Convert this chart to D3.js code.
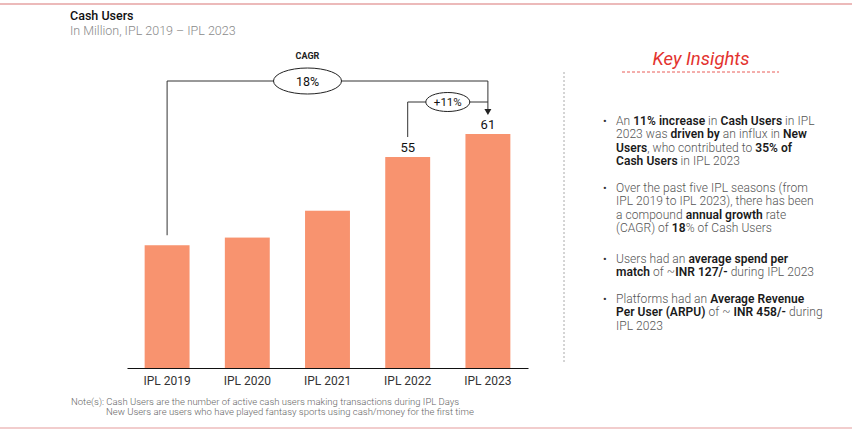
<!DOCTYPE html>
<html><head><meta charset="utf-8">
<script src="https://cdn.jsdelivr.net/npm/d3@7"></script>
<style>
html,body{margin:0;padding:0;background:#fff;}
svg{display:block;font-family:Roboto, "Noto Sans", sans-serif;}
</style></head>
<body><svg id="c" width="854" height="430"></svg>
<script>
const categories = ["IPL 2019","IPL 2020","IPL 2021","IPL 2022","IPL 2023"];
const values = [32, 34, 41, 55, 61];
const labelled = ["IPL 2022","IPL 2023"];
const cagrLabel = "18%";
const yoyLabel = "+11%";
const insights = [
  [[["An ",0],["11% increase",1],[" in ",0],["Cash Users",1],[" in IPL",0]],
   [["2023 was ",0],["driven by",1],[" an influx in ",0],["New",1]],
   [["Users",1],[", who contributed to ",0],["35% of",1]],
   [["Cash Users",1],[" in IPL 2023",0]]],
  [[["Over the past five IPL seasons (from",0]],
   [["IPL 2019 to IPL 2023), there has been",0]],
   [["a compound ",0],["annual growth",1],[" rate",0]],
   [["(CAGR) of ",0],["18",1],["% of Cash Users",0]]],
  [[["Users had an ",0],["average spend per",1]],
   [["match",1],[" of ~",0],["INR 127/-",1],[" during IPL 2023",0]]],
  [[["Platforms had an ",0],["Average Revenue",1]],
   [["Per User (ARPU)",1],[" of ~ ",0],["INR 458/-",1],[" during",0]],
   [["IPL 2023",0]]]
];
const notes = ["Note(s): Cash Users are the number of active cash users making transactions during IPL Days",
               "New Users are users who have played fantasy sports using cash/money for the first time"];

const svg = d3.select("#c");
// borders
svg.append("line").attr("x1",0).attr("x2",852).attr("y1",4).attr("y2",4).attr("stroke","#e6a3a3").attr("stroke-width",1.5);
svg.append("line").attr("x1",0).attr("x2",852).attr("y1",428).attr("y2",428).attr("stroke","#eebcbc").attr("stroke-width",1.5);

// titles
svg.append("text").attr("x",70).attr("y",20).attr("font-size",12.5).attr("font-weight",500).attr("fill","#111").text("Cash Users");
svg.append("text").attr("x",70).attr("y",35).attr("font-size",12.5).attr("font-weight",300).attr("fill","#8a8a8a").text("In Million, IPL 2019 \u2013 IPL 2023");

const x = d3.scaleBand().domain(categories).range([127,528]).paddingInner(0.44).paddingOuter(0.22);
const y = d3.scaleLinear().domain([0,61]).range([368,134]);

svg.append("g").selectAll("rect").data(categories).join("rect")
  .attr("x",d=>x(d)).attr("width",x.bandwidth())
  .attr("y",(d,i)=>y(values[i])).attr("height",(d,i)=>y(0)-y(values[i]))
  .attr("fill","#f8936f");

const ax = svg.append("g").attr("transform","translate(0,368)")
  .call(d3.axisBottom(x).tickSize(0).tickPadding(8));
ax.select(".domain").attr("stroke","#111").attr("stroke-width",1.2);
ax.selectAll("text").attr("font-size",12).attr("fill","#333").attr("font-family","Roboto");

// value labels
svg.append("g").selectAll("text").data(labelled).join("text")
  .attr("x",d=>x(d)+x.bandwidth()/2)
  .attr("y",d=>y(values[categories.indexOf(d)])-5)
  .attr("text-anchor","middle").attr("font-size",13).attr("font-weight",400).attr("fill","#111")
  .text(d=>values[categories.indexOf(d)]);

// CAGR bracket
const cx = c => x(c)+x.bandwidth()/2;
const first = categories[0], last = categories[categories.length-1], prev = categories[categories.length-2];
const yTop = 81, ySub = 102;
const lineCol = "#333";
svg.append("path").attr("fill","none").attr("stroke",lineCol).attr("stroke-width",1)
  .attr("d",`M${cx(first)},${y(values[0])-10}V${yTop}H${cx(last)}V${y(values[4])-22}`);
svg.append("path").attr("fill","none").attr("stroke",lineCol).attr("stroke-width",1)
  .attr("d",`M${cx(prev)},${y(values[3])-20}V${ySub}H${cx(last)}`);
// arrowhead
const ah = y(values[4])-19;
svg.append("path").attr("fill","#222").attr("d",`M${cx(last)-3.5},${ah-6}L${cx(last)+3.5},${ah-6}L${cx(last)},${ah}Z`);

const e1x = (cx(first)+cx(last))/2 - 20;
svg.append("ellipse").attr("cx",e1x).attr("cy",yTop).attr("rx",34).attr("ry",13).attr("fill","#fff").attr("stroke","#222").attr("stroke-width",1);
svg.append("text").attr("x",e1x).attr("y",yTop+4.5).attr("text-anchor","middle").attr("font-size",12.5).attr("fill","#111").text(cagrLabel);
svg.append("text").attr("x",e1x).attr("y",59).attr("text-anchor","middle").attr("font-size",9).attr("font-weight",700).attr("fill","#222").text("CAGR");

const e2x = (cx(prev)+cx(last))/2 + 0;
svg.append("ellipse").attr("cx",e2x).attr("cy",ySub).attr("rx",22).attr("ry",9.5).attr("fill","#fff").attr("stroke","#222").attr("stroke-width",1);
svg.append("text").attr("x",e2x).attr("y",ySub+4).attr("text-anchor","middle").attr("font-size",11.5).attr("fill","#111").text(yoyLabel);

// divider
svg.append("line").attr("x1",564).attr("x2",564).attr("y1",72).attr("y2",364)
  .attr("stroke","#aaa").attr("stroke-width",1).attr("stroke-dasharray","2,2");

// Key Insights
svg.append("text").attr("x",701).attr("y",65).attr("text-anchor","middle").attr("font-size",18.5)
  .attr("font-style","italic").attr("fill","#e3332f").text("Key Insights");
svg.append("line").attr("x1",622).attr("x2",779).attr("y1",72).attr("y2",72)
  .attr("stroke","#e3332f").attr("stroke-width",0.8).attr("stroke-dasharray","3,2");

const starts = [125, 192, 263, 303];
const lh = 13.4;
insights.forEach((para,pi)=>{
  svg.append("text").attr("x",603).attr("y",starts[pi]).attr("font-size",11).attr("fill","#333").text("\u2022");
  para.forEach((line,li)=>{
    const t = svg.append("text").attr("x",616).attr("y",starts[pi]+li*lh).attr("font-size",12).attr("letter-spacing",0.05);
    line.forEach(seg=>{
      t.append("tspan").text(seg[0]).attr("font-weight",seg[1]?600:300).attr("fill",seg[1]?"#1a1a1a":"#555");
    });
  });
});

// notes
svg.append("text").attr("x",71).attr("y",405).attr("font-size",9.5).attr("font-weight",300).attr("fill","#666").text(notes[0]);
svg.append("text").attr("x",106).attr("y",414.5).attr("font-size",9.5).attr("font-weight",300).attr("fill","#666").text(notes[1]);
</script></body></html>
